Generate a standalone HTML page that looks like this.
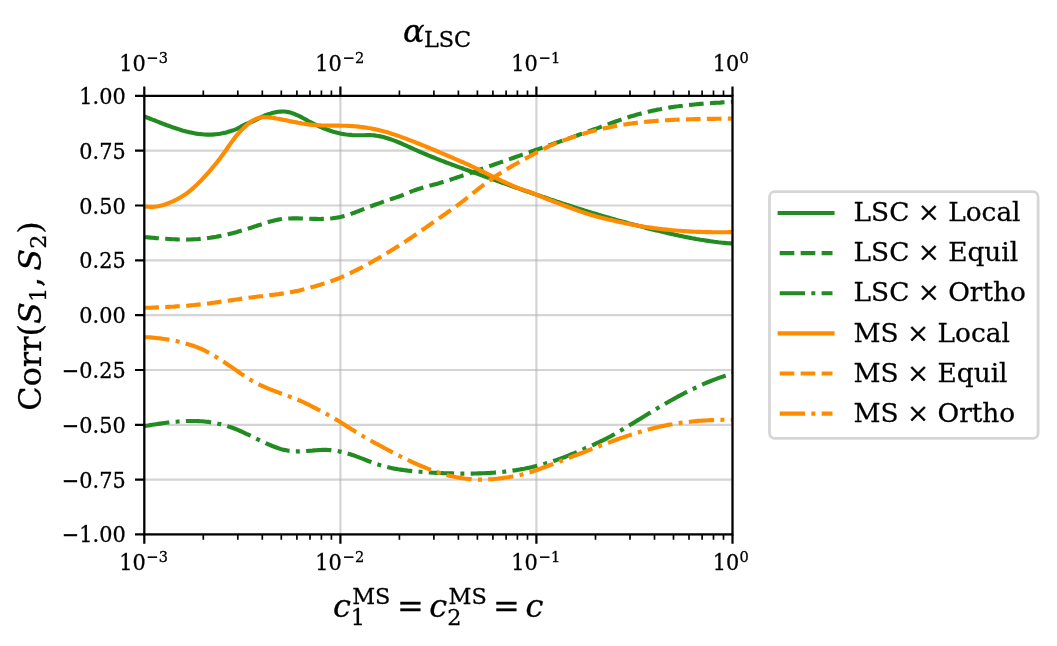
<!DOCTYPE html>
<html lang="en"><head><meta charset="utf-8"><title>Corr(S1, S2)</title>
<style>
html,body{margin:0;padding:0;background:#fff}
svg{display:block}
text{font-family:"DejaVu Serif","Liberation Serif",serif;fill:#000;stroke:#000;stroke-width:.28px}
.i{font-style:italic}
.t{font-size:20.83px}
.s{font-size:14.58px}
.l{font-size:26.39px}
.a{font-size:31.94px}
.b{font-size:22.36px}
</style></head><body>
<svg width="1057" height="646" viewBox="0 0 1057 646">
<rect width="1057" height="646" fill="#fff"/>
<g stroke="#b0b0b0" stroke-opacity="0.55" stroke-width="2.2" fill="none">
<path d="M144.3,95.9 V534.4"/>
<path d="M340.4,95.9 V534.4"/>
<path d="M536.4,95.9 V534.4"/>
<path d="M732.5,95.9 V534.4"/>
<path d="M144.3,95.9 H732.5"/>
<path d="M144.3,150.7 H732.5"/>
<path d="M144.3,205.5 H732.5"/>
<path d="M144.3,260.3 H732.5"/>
<path d="M144.3,315.1 H732.5"/>
<path d="M144.3,370.0 H732.5"/>
<path d="M144.3,424.8 H732.5"/>
<path d="M144.3,479.6 H732.5"/>
<path d="M144.3,534.4 H732.5"/>
</g>
<clipPath id="cp"><rect x="144.3" y="95.9" width="588.2" height="438.5"/></clipPath>
<g clip-path="url(#cp)" fill="none" stroke-width="4.15" stroke-linejoin="round">
<path stroke="#228b22" stroke-linecap="square" d="M144.3,116.4 L146.3,117.2 L148.3,118.0 L150.3,118.8 L152.3,119.6 L154.3,120.3 L156.3,121.1 L158.3,121.9 L160.3,122.7 L162.3,123.5 L164.3,124.2 L166.3,125.0 L168.3,125.7 L170.3,126.4 L172.3,127.2 L174.3,127.8 L176.3,128.5 L178.3,129.1 L180.3,129.8 L182.3,130.4 L184.3,130.9 L186.3,131.5 L188.3,131.9 L190.3,132.4 L192.3,132.8 L194.3,133.2 L196.3,133.6 L198.3,133.9 L200.3,134.1 L202.3,134.3 L204.3,134.5 L206.3,134.6 L208.3,134.6 L210.3,134.6 L212.3,134.6 L214.3,134.4 L216.3,134.3 L218.3,134.0 L220.3,133.7 L222.3,133.3 L224.3,132.9 L226.3,132.4 L228.3,131.8 L230.3,131.2 L232.3,130.6 L234.3,129.9 L236.3,129.1 L238.3,128.2 L240.3,127.1 L242.3,125.9 L244.3,124.9 L246.3,123.9 L248.3,123.1 L250.3,122.3 L252.3,121.5 L254.3,120.6 L256.3,119.6 L258.3,118.6 L260.3,117.6 L262.3,116.7 L264.3,115.8 L266.3,115.0 L268.3,114.3 L270.3,113.7 L272.3,113.1 L274.3,112.5 L276.3,112.1 L278.3,111.8 L280.3,111.6 L282.3,111.5 L284.3,111.5 L286.3,111.7 L288.3,112.1 L290.3,112.6 L292.3,113.2 L294.3,113.9 L296.3,114.8 L298.3,115.7 L300.3,116.7 L302.3,117.7 L304.3,118.8 L306.3,119.9 L308.3,121.0 L310.3,122.0 L312.3,123.1 L314.3,124.1 L316.3,125.0 L318.3,126.0 L320.3,126.8 L322.3,127.7 L324.3,128.5 L326.3,129.3 L328.3,130.0 L330.3,130.7 L332.3,131.4 L334.3,132.0 L336.3,132.5 L338.3,133.0 L340.3,133.5 L342.3,133.9 L344.3,134.2 L346.3,134.5 L348.3,134.7 L350.3,134.9 L352.3,135.1 L354.3,135.2 L356.3,135.2 L358.3,135.3 L360.3,135.2 L362.3,135.2 L364.3,135.2 L366.3,135.1 L368.3,135.1 L370.3,135.1 L372.3,135.2 L374.3,135.4 L376.3,135.7 L378.3,136.0 L380.3,136.4 L382.3,136.8 L384.3,137.3 L386.3,137.9 L388.3,138.5 L390.3,139.2 L392.3,139.9 L394.3,140.6 L396.3,141.4 L398.3,142.2 L400.3,143.0 L402.3,143.9 L404.3,144.8 L406.3,145.7 L408.3,146.6 L410.3,147.5 L412.3,148.4 L414.3,149.3 L416.3,150.2 L418.3,151.1 L420.3,152.0 L422.3,152.8 L424.3,153.7 L426.3,154.5 L428.3,155.4 L430.3,156.2 L432.3,157.0 L434.3,157.8 L436.3,158.6 L438.3,159.4 L440.3,160.2 L442.3,160.9 L444.3,161.7 L446.3,162.5 L448.3,163.2 L450.3,163.9 L452.3,164.7 L454.3,165.4 L456.3,166.2 L458.3,166.9 L460.3,167.6 L462.3,168.3 L464.3,169.1 L466.3,169.8 L468.3,170.5 L470.3,171.2 L472.3,172.0 L474.3,172.7 L476.3,173.4 L478.3,174.1 L480.3,174.9 L482.3,175.6 L484.3,176.3 L486.3,177.0 L488.3,177.7 L490.3,178.4 L492.3,179.2 L494.3,179.9 L496.3,180.6 L498.3,181.3 L500.3,182.0 L502.3,182.7 L504.3,183.4 L506.3,184.1 L508.3,184.8 L510.3,185.6 L512.3,186.3 L514.3,187.0 L516.3,187.7 L518.3,188.4 L520.3,189.1 L522.3,189.8 L524.3,190.5 L526.3,191.2 L528.3,191.8 L530.3,192.5 L532.3,193.2 L534.3,193.9 L536.3,194.6 L538.3,195.3 L540.3,196.0 L542.3,196.7 L544.3,197.3 L546.3,198.0 L548.3,198.7 L550.3,199.4 L552.3,200.0 L554.3,200.7 L556.3,201.4 L558.3,202.0 L560.3,202.7 L562.3,203.4 L564.3,204.0 L566.3,204.7 L568.3,205.3 L570.3,206.0 L572.3,206.6 L574.3,207.3 L576.3,207.9 L578.3,208.6 L580.3,209.2 L582.3,209.8 L584.3,210.5 L586.3,211.1 L588.3,211.7 L590.3,212.3 L592.3,212.9 L594.3,213.5 L596.3,214.1 L598.3,214.7 L600.3,215.3 L602.3,215.9 L604.3,216.5 L606.3,217.1 L608.3,217.6 L610.3,218.2 L612.3,218.8 L614.3,219.3 L616.3,219.9 L618.3,220.5 L620.3,221.0 L622.3,221.6 L624.3,222.1 L626.3,222.6 L628.3,223.2 L630.3,223.7 L632.3,224.2 L634.3,224.8 L636.3,225.3 L638.3,225.8 L640.3,226.3 L642.3,226.8 L644.3,227.3 L646.3,227.9 L648.3,228.4 L650.3,228.9 L652.3,229.4 L654.3,229.9 L656.3,230.4 L658.3,230.8 L660.3,231.3 L662.3,231.8 L664.3,232.3 L666.3,232.7 L668.3,233.2 L670.3,233.7 L672.3,234.1 L674.3,234.6 L676.3,235.0 L678.3,235.4 L680.3,235.9 L682.3,236.3 L684.3,236.7 L686.3,237.1 L688.3,237.5 L690.3,237.9 L692.3,238.3 L694.3,238.6 L696.3,239.0 L698.3,239.3 L700.3,239.7 L702.3,240.0 L704.3,240.3 L706.3,240.6 L708.3,240.9 L710.3,241.2 L712.3,241.5 L714.3,241.8 L716.3,242.0 L718.3,242.3 L720.3,242.5 L722.3,242.7 L724.3,242.9 L726.3,243.1 L728.3,243.3 L730.3,243.4 L732.5,243.6"/>
<path stroke="#228b22" stroke-dasharray="14.63,6.33" d="M144.3,237.1 L146.3,237.3 L148.3,237.4 L150.3,237.6 L152.3,237.8 L154.3,237.9 L156.3,238.1 L158.3,238.2 L160.3,238.4 L162.3,238.6 L164.3,238.7 L166.3,238.8 L168.3,239.0 L170.3,239.1 L172.3,239.2 L174.3,239.3 L176.3,239.4 L178.3,239.5 L180.3,239.5 L182.3,239.5 L184.3,239.6 L186.3,239.6 L188.3,239.5 L190.3,239.5 L192.3,239.4 L194.3,239.3 L196.3,239.2 L198.3,239.1 L200.3,238.9 L202.3,238.7 L204.3,238.5 L206.3,238.3 L208.3,238.0 L210.3,237.7 L212.3,237.4 L214.3,237.1 L216.3,236.8 L218.3,236.4 L220.3,236.0 L222.3,235.6 L224.3,235.2 L226.3,234.7 L228.3,234.2 L230.3,233.7 L232.3,233.2 L234.3,232.7 L236.3,232.2 L238.3,231.6 L240.3,231.0 L242.3,230.4 L244.3,229.8 L246.3,229.2 L248.3,228.6 L250.3,227.9 L252.3,227.3 L254.3,226.6 L256.3,226.0 L258.3,225.3 L260.3,224.7 L262.3,224.0 L264.3,223.4 L266.3,222.7 L268.3,222.1 L270.3,221.5 L272.3,221.0 L274.3,220.5 L276.3,220.0 L278.3,219.6 L280.3,219.3 L282.3,219.0 L284.3,218.8 L286.3,218.7 L288.3,218.5 L290.3,218.5 L292.3,218.4 L294.3,218.4 L296.3,218.4 L298.3,218.4 L300.3,218.5 L302.3,218.5 L304.3,218.6 L306.3,218.7 L308.3,218.7 L310.3,218.8 L312.3,218.9 L314.3,218.9 L316.3,218.9 L318.3,219.0 L320.3,219.0 L322.3,218.9 L324.3,218.9 L326.3,218.8 L328.3,218.6 L330.3,218.5 L332.3,218.3 L334.3,218.0 L336.3,217.7 L338.3,217.4 L340.3,217.0 L342.3,216.5 L344.3,216.0 L346.3,215.5 L348.3,214.8 L350.3,214.2 L352.3,213.4 L354.3,212.7 L356.3,211.9 L358.3,211.2 L360.3,210.4 L362.3,209.6 L364.3,208.8 L366.3,208.0 L368.3,207.2 L370.3,206.5 L372.3,205.8 L374.3,205.0 L376.3,204.3 L378.3,203.6 L380.3,202.9 L382.3,202.1 L384.3,201.4 L386.3,200.8 L388.3,200.1 L390.3,199.4 L392.3,198.7 L394.3,198.1 L396.3,197.4 L398.3,196.7 L400.3,196.0 L402.3,195.3 L404.3,194.5 L406.3,193.6 L408.3,192.8 L410.3,191.9 L412.3,191.1 L414.3,190.4 L416.3,189.7 L418.3,189.0 L420.3,188.4 L422.3,187.8 L424.3,187.2 L426.3,186.7 L428.3,186.1 L430.3,185.6 L432.3,185.1 L434.3,184.5 L436.3,183.9 L438.3,183.4 L440.3,182.8 L442.3,182.2 L444.3,181.6 L446.3,181.0 L448.3,180.3 L450.3,179.7 L452.3,179.1 L454.3,178.4 L456.3,177.7 L458.3,177.1 L460.3,176.4 L462.3,175.7 L464.3,175.1 L466.3,174.4 L468.3,173.7 L470.3,173.0 L472.3,172.3 L474.3,171.6 L476.3,170.9 L478.3,170.2 L480.3,169.5 L482.3,168.8 L484.3,168.1 L486.3,167.4 L488.3,166.6 L490.3,165.9 L492.3,165.2 L494.3,164.5 L496.3,163.8 L498.3,163.1 L500.3,162.4 L502.3,161.7 L504.3,161.0 L506.3,160.3 L508.3,159.6 L510.3,158.9 L512.3,158.2 L514.3,157.5 L516.3,156.8 L518.3,156.1 L520.3,155.4 L522.3,154.7 L524.3,154.0 L526.3,153.3 L528.3,152.6 L530.3,151.9 L532.3,151.2 L534.3,150.5 L536.3,149.8 L538.3,149.1 L540.3,148.4 L542.3,147.7 L544.3,147.0 L546.3,146.3 L548.3,145.6 L550.3,144.9 L552.3,144.2 L554.3,143.5 L556.3,142.8 L558.3,142.1 L560.3,141.4 L562.3,140.7 L564.3,140.0 L566.3,139.3 L568.3,138.6 L570.3,137.9 L572.3,137.2 L574.3,136.5 L576.3,135.8 L578.3,135.0 L580.3,134.3 L582.3,133.6 L584.3,132.9 L586.3,132.2 L588.3,131.5 L590.3,130.7 L592.3,130.0 L594.3,129.3 L596.3,128.6 L598.3,127.9 L600.3,127.1 L602.3,126.4 L604.3,125.7 L606.3,124.9 L608.3,124.2 L610.3,123.5 L612.3,122.7 L614.3,122.0 L616.3,121.3 L618.3,120.6 L620.3,119.9 L622.3,119.2 L624.3,118.6 L626.3,117.9 L628.3,117.2 L630.3,116.6 L632.3,116.0 L634.3,115.4 L636.3,114.8 L638.3,114.2 L640.3,113.7 L642.3,113.2 L644.3,112.7 L646.3,112.2 L648.3,111.7 L650.3,111.2 L652.3,110.8 L654.3,110.4 L656.3,109.9 L658.3,109.5 L660.3,109.2 L662.3,108.8 L664.3,108.4 L666.3,108.1 L668.3,107.7 L670.3,107.4 L672.3,107.1 L674.3,106.8 L676.3,106.5 L678.3,106.3 L680.3,106.0 L682.3,105.8 L684.3,105.5 L686.3,105.3 L688.3,105.1 L690.3,104.9 L692.3,104.7 L694.3,104.5 L696.3,104.3 L698.3,104.1 L700.3,103.9 L702.3,103.8 L704.3,103.6 L706.3,103.5 L708.3,103.3 L710.3,103.2 L712.3,103.0 L714.3,102.9 L716.3,102.8 L718.3,102.7 L720.3,102.6 L722.3,102.4 L724.3,102.3 L726.3,102.2 L728.3,102.1 L730.3,102.0 L732.5,101.9"/>
<path stroke="#228b22" stroke-dasharray="25.31,6.33,3.96,6.33" d="M144.3,426.1 L146.3,425.8 L148.3,425.5 L150.3,425.1 L152.3,424.8 L154.3,424.5 L156.3,424.2 L158.3,423.9 L160.3,423.6 L162.3,423.3 L164.3,423.0 L166.3,422.7 L168.3,422.5 L170.3,422.3 L172.3,422.0 L174.3,421.8 L176.3,421.7 L178.3,421.5 L180.3,421.4 L182.3,421.2 L184.3,421.1 L186.3,421.0 L188.3,421.0 L190.3,421.0 L192.3,421.0 L194.3,421.0 L196.3,421.0 L198.3,421.1 L200.3,421.2 L202.3,421.3 L204.3,421.5 L206.3,421.7 L208.3,421.9 L210.3,422.2 L212.3,422.5 L214.3,422.9 L216.3,423.2 L218.3,423.7 L220.3,424.1 L222.3,424.6 L224.3,425.2 L226.3,425.7 L228.3,426.4 L230.3,427.0 L232.3,427.7 L234.3,428.5 L236.3,429.3 L238.3,430.1 L240.3,431.0 L242.3,431.9 L244.3,432.8 L246.3,433.8 L248.3,434.7 L250.3,435.7 L252.3,436.7 L254.3,437.6 L256.3,438.6 L258.3,439.6 L260.3,440.6 L262.3,441.5 L264.3,442.4 L266.3,443.4 L268.3,444.3 L270.3,445.1 L272.3,446.0 L274.3,446.8 L276.3,447.5 L278.3,448.2 L280.3,448.9 L282.3,449.4 L284.3,449.9 L286.3,450.3 L288.3,450.7 L290.3,450.9 L292.3,451.1 L294.3,451.3 L296.3,451.3 L298.3,451.4 L300.3,451.3 L302.3,451.3 L304.3,451.2 L306.3,451.0 L308.3,450.9 L310.3,450.7 L312.3,450.6 L314.3,450.4 L316.3,450.2 L318.3,450.1 L320.3,450.0 L322.3,449.9 L324.3,449.9 L326.3,449.9 L328.3,450.0 L330.3,450.1 L332.3,450.3 L334.3,450.5 L336.3,450.8 L338.3,451.2 L340.3,451.6 L342.3,452.0 L344.3,452.5 L346.3,453.1 L348.3,453.7 L350.3,454.3 L352.3,455.0 L354.3,455.6 L356.3,456.4 L358.3,457.1 L360.3,457.9 L362.3,458.6 L364.3,459.4 L366.3,460.2 L368.3,461.0 L370.3,461.7 L372.3,462.5 L374.3,463.2 L376.3,463.9 L378.3,464.5 L380.3,465.2 L382.3,465.8 L384.3,466.3 L386.3,466.8 L388.3,467.3 L390.3,467.8 L392.3,468.2 L394.3,468.6 L396.3,468.9 L398.3,469.3 L400.3,469.6 L402.3,469.9 L404.3,470.2 L406.3,470.4 L408.3,470.7 L410.3,470.9 L412.3,471.1 L414.3,471.3 L416.3,471.5 L418.3,471.7 L420.3,471.8 L422.3,472.0 L424.3,472.1 L426.3,472.3 L428.3,472.4 L430.3,472.5 L432.3,472.7 L434.3,472.8 L436.3,472.9 L438.3,472.9 L440.3,473.0 L442.3,473.1 L444.3,473.2 L446.3,473.3 L448.3,473.3 L450.3,473.4 L452.3,473.4 L454.3,473.5 L456.3,473.5 L458.3,473.6 L460.3,473.6 L462.3,473.6 L464.3,473.6 L466.3,473.6 L468.3,473.6 L470.3,473.6 L472.3,473.6 L474.3,473.5 L476.3,473.5 L478.3,473.4 L480.3,473.4 L482.3,473.3 L484.3,473.2 L486.3,473.1 L488.3,473.0 L490.3,472.9 L492.3,472.7 L494.3,472.6 L496.3,472.4 L498.3,472.3 L500.3,472.1 L502.3,471.9 L504.3,471.7 L506.3,471.4 L508.3,471.2 L510.3,470.9 L512.3,470.7 L514.3,470.4 L516.3,470.1 L518.3,469.7 L520.3,469.4 L522.3,469.0 L524.3,468.7 L526.3,468.3 L528.3,467.9 L530.3,467.4 L532.3,467.0 L534.3,466.5 L536.3,466.0 L538.3,465.5 L540.3,465.0 L542.3,464.5 L544.3,463.9 L546.3,463.3 L548.3,462.7 L550.3,462.1 L552.3,461.5 L554.3,460.8 L556.3,460.1 L558.3,459.4 L560.3,458.7 L562.3,457.9 L564.3,457.2 L566.3,456.4 L568.3,455.6 L570.3,454.8 L572.3,454.0 L574.3,453.2 L576.3,452.3 L578.3,451.5 L580.3,450.6 L582.3,449.7 L584.3,448.8 L586.3,448.0 L588.3,447.1 L590.3,446.2 L592.3,445.3 L594.3,444.3 L596.3,443.4 L598.3,442.5 L600.3,441.5 L602.3,440.6 L604.3,439.6 L606.3,438.6 L608.3,437.5 L610.3,436.5 L612.3,435.4 L614.3,434.3 L616.3,433.1 L618.3,432.0 L620.3,430.8 L622.3,429.6 L624.3,428.4 L626.3,427.2 L628.3,426.0 L630.3,424.8 L632.3,423.6 L634.3,422.4 L636.3,421.1 L638.3,419.9 L640.3,418.7 L642.3,417.5 L644.3,416.3 L646.3,415.0 L648.3,413.8 L650.3,412.6 L652.3,411.4 L654.3,410.2 L656.3,409.0 L658.3,407.8 L660.3,406.6 L662.3,405.4 L664.3,404.3 L666.3,403.1 L668.3,402.0 L670.3,400.8 L672.3,399.7 L674.3,398.6 L676.3,397.5 L678.3,396.4 L680.3,395.4 L682.3,394.3 L684.3,393.2 L686.3,392.2 L688.3,391.2 L690.3,390.2 L692.3,389.2 L694.3,388.3 L696.3,387.3 L698.3,386.4 L700.3,385.5 L702.3,384.6 L704.3,383.7 L706.3,382.8 L708.3,382.0 L710.3,381.2 L712.3,380.4 L714.3,379.6 L716.3,378.9 L718.3,378.1 L720.3,377.4 L722.3,376.8 L724.3,376.1 L726.3,375.5 L728.3,374.9 L730.3,374.3 L732.5,373.7"/>
<path stroke="#ff8c00" stroke-linecap="square" d="M144.3,206.4 L146.3,206.6 L148.3,206.8 L150.3,206.9 L152.3,206.9 L154.3,206.8 L156.3,206.5 L158.3,206.2 L160.3,205.8 L162.3,205.3 L164.3,204.7 L166.3,204.0 L168.3,203.2 L170.3,202.4 L172.3,201.6 L174.3,200.6 L176.3,199.7 L178.3,198.6 L180.3,197.5 L182.3,196.3 L184.3,195.0 L186.3,193.6 L188.3,192.1 L190.3,190.5 L192.3,188.8 L194.3,187.1 L196.3,185.2 L198.3,183.3 L200.3,181.3 L202.3,179.2 L204.3,177.0 L206.3,174.8 L208.3,172.6 L210.3,170.3 L212.3,167.9 L214.3,165.5 L216.3,163.1 L218.3,160.6 L220.3,158.0 L222.3,155.3 L224.3,152.6 L226.3,149.7 L228.3,146.8 L230.3,143.9 L232.3,141.1 L234.3,138.4 L236.3,135.9 L238.3,133.6 L240.3,131.4 L242.3,129.4 L244.3,127.4 L246.3,125.6 L248.3,123.8 L250.3,122.2 L252.3,120.8 L254.3,119.7 L256.3,118.8 L258.3,118.1 L260.3,117.6 L262.3,117.3 L264.3,117.2 L266.3,117.2 L268.3,117.3 L270.3,117.6 L272.3,117.8 L274.3,118.1 L276.3,118.5 L278.3,118.8 L280.3,119.2 L282.3,119.6 L284.3,120.0 L286.3,120.4 L288.3,120.8 L290.3,121.2 L292.3,121.6 L294.3,122.0 L296.3,122.4 L298.3,122.8 L300.3,123.1 L302.3,123.5 L304.3,123.8 L306.3,124.1 L308.3,124.4 L310.3,124.6 L312.3,124.9 L314.3,125.0 L316.3,125.2 L318.3,125.3 L320.3,125.4 L322.3,125.5 L324.3,125.5 L326.3,125.5 L328.3,125.6 L330.3,125.6 L332.3,125.6 L334.3,125.6 L336.3,125.6 L338.3,125.6 L340.3,125.7 L342.3,125.7 L344.3,125.7 L346.3,125.8 L348.3,125.9 L350.3,126.0 L352.3,126.1 L354.3,126.3 L356.3,126.4 L358.3,126.6 L360.3,126.9 L362.3,127.1 L364.3,127.4 L366.3,127.6 L368.3,128.0 L370.3,128.3 L372.3,128.7 L374.3,129.1 L376.3,129.5 L378.3,129.9 L380.3,130.4 L382.3,130.9 L384.3,131.5 L386.3,132.0 L388.3,132.6 L390.3,133.3 L392.3,133.9 L394.3,134.6 L396.3,135.2 L398.3,135.9 L400.3,136.6 L402.3,137.4 L404.3,138.1 L406.3,138.8 L408.3,139.6 L410.3,140.4 L412.3,141.1 L414.3,141.9 L416.3,142.7 L418.3,143.5 L420.3,144.3 L422.3,145.1 L424.3,145.9 L426.3,146.7 L428.3,147.5 L430.3,148.4 L432.3,149.2 L434.3,150.0 L436.3,150.9 L438.3,151.7 L440.3,152.6 L442.3,153.4 L444.3,154.3 L446.3,155.1 L448.3,156.0 L450.3,156.8 L452.3,157.7 L454.3,158.6 L456.3,159.4 L458.3,160.3 L460.3,161.2 L462.3,162.0 L464.3,162.9 L466.3,163.8 L468.3,164.7 L470.3,165.6 L472.3,166.6 L474.3,167.5 L476.3,168.5 L478.3,169.4 L480.3,170.4 L482.3,171.4 L484.3,172.4 L486.3,173.4 L488.3,174.3 L490.3,175.3 L492.3,176.3 L494.3,177.3 L496.3,178.2 L498.3,179.2 L500.3,180.1 L502.3,181.1 L504.3,182.0 L506.3,182.9 L508.3,183.8 L510.3,184.7 L512.3,185.6 L514.3,186.5 L516.3,187.3 L518.3,188.1 L520.3,188.9 L522.3,189.6 L524.3,190.2 L526.3,190.9 L528.3,191.5 L530.3,192.2 L532.3,193.0 L534.3,193.7 L536.3,194.6 L538.3,195.4 L540.3,196.2 L542.3,197.1 L544.3,197.9 L546.3,198.7 L548.3,199.5 L550.3,200.3 L552.3,201.0 L554.3,201.8 L556.3,202.6 L558.3,203.3 L560.3,204.1 L562.3,204.8 L564.3,205.6 L566.3,206.3 L568.3,207.1 L570.3,207.8 L572.3,208.6 L574.3,209.3 L576.3,210.0 L578.3,210.7 L580.3,211.4 L582.3,212.1 L584.3,212.8 L586.3,213.4 L588.3,214.1 L590.3,214.7 L592.3,215.3 L594.3,215.8 L596.3,216.4 L598.3,216.9 L600.3,217.4 L602.3,217.9 L604.3,218.4 L606.3,218.9 L608.3,219.4 L610.3,219.9 L612.3,220.3 L614.3,220.8 L616.3,221.2 L618.3,221.7 L620.3,222.1 L622.3,222.5 L624.3,223.0 L626.3,223.4 L628.3,223.8 L630.3,224.2 L632.3,224.6 L634.3,225.0 L636.3,225.3 L638.3,225.7 L640.3,226.0 L642.3,226.4 L644.3,226.7 L646.3,227.0 L648.3,227.3 L650.3,227.6 L652.3,227.9 L654.3,228.2 L656.3,228.4 L658.3,228.7 L660.3,228.9 L662.3,229.2 L664.3,229.4 L666.3,229.6 L668.3,229.8 L670.3,230.0 L672.3,230.2 L674.3,230.4 L676.3,230.5 L678.3,230.7 L680.3,230.8 L682.3,231.0 L684.3,231.1 L686.3,231.3 L688.3,231.4 L690.3,231.5 L692.3,231.6 L694.3,231.7 L696.3,231.8 L698.3,231.8 L700.3,231.9 L702.3,232.0 L704.3,232.0 L706.3,232.1 L708.3,232.1 L710.3,232.1 L712.3,232.2 L714.3,232.2 L716.3,232.2 L718.3,232.2 L720.3,232.2 L722.3,232.2 L724.3,232.2 L726.3,232.2 L728.3,232.1 L730.3,232.1 L732.5,232.0"/>
<path stroke="#ff8c00" stroke-dasharray="14.63,6.33" d="M144.3,307.9 L146.3,307.8 L148.3,307.7 L150.3,307.7 L152.3,307.6 L154.3,307.5 L156.3,307.4 L158.3,307.4 L160.3,307.3 L162.3,307.2 L164.3,307.1 L166.3,307.0 L168.3,306.9 L170.3,306.8 L172.3,306.7 L174.3,306.6 L176.3,306.4 L178.3,306.3 L180.3,306.2 L182.3,306.0 L184.3,305.9 L186.3,305.7 L188.3,305.6 L190.3,305.4 L192.3,305.2 L194.3,305.0 L196.3,304.8 L198.3,304.6 L200.3,304.4 L202.3,304.2 L204.3,303.9 L206.3,303.7 L208.3,303.5 L210.3,303.2 L212.3,302.9 L214.3,302.7 L216.3,302.4 L218.3,302.1 L220.3,301.8 L222.3,301.5 L224.3,301.3 L226.3,301.0 L228.3,300.7 L230.3,300.4 L232.3,300.1 L234.3,299.8 L236.3,299.5 L238.3,299.2 L240.3,298.9 L242.3,298.6 L244.3,298.4 L246.3,298.1 L248.3,297.8 L250.3,297.5 L252.3,297.3 L254.3,297.0 L256.3,296.8 L258.3,296.5 L260.3,296.3 L262.3,296.1 L264.3,295.8 L266.3,295.6 L268.3,295.4 L270.3,295.1 L272.3,294.9 L274.3,294.7 L276.3,294.4 L278.3,294.2 L280.3,293.9 L282.3,293.6 L284.3,293.3 L286.3,293.0 L288.3,292.7 L290.3,292.3 L292.3,291.9 L294.3,291.5 L296.3,291.1 L298.3,290.7 L300.3,290.2 L302.3,289.7 L304.3,289.2 L306.3,288.7 L308.3,288.2 L310.3,287.6 L312.3,287.0 L314.3,286.5 L316.3,285.9 L318.3,285.3 L320.3,284.7 L322.3,284.1 L324.3,283.4 L326.3,282.8 L328.3,282.1 L330.3,281.4 L332.3,280.7 L334.3,280.0 L336.3,279.2 L338.3,278.5 L340.3,277.7 L342.3,276.8 L344.3,276.0 L346.3,275.1 L348.3,274.1 L350.3,273.2 L352.3,272.2 L354.3,271.2 L356.3,270.2 L358.3,269.2 L360.3,268.2 L362.3,267.1 L364.3,266.0 L366.3,265.0 L368.3,263.9 L370.3,262.8 L372.3,261.7 L374.3,260.5 L376.3,259.4 L378.3,258.2 L380.3,257.1 L382.3,255.9 L384.3,254.7 L386.3,253.5 L388.3,252.3 L390.3,251.1 L392.3,249.8 L394.3,248.6 L396.3,247.3 L398.3,246.1 L400.3,244.8 L402.3,243.5 L404.3,242.2 L406.3,240.9 L408.3,239.5 L410.3,238.2 L412.3,236.9 L414.3,235.5 L416.3,234.1 L418.3,232.8 L420.3,231.4 L422.3,230.0 L424.3,228.6 L426.3,227.2 L428.3,225.8 L430.3,224.4 L432.3,223.0 L434.3,221.6 L436.3,220.2 L438.3,218.8 L440.3,217.4 L442.3,216.0 L444.3,214.6 L446.3,213.2 L448.3,211.8 L450.3,210.4 L452.3,209.0 L454.3,207.5 L456.3,206.1 L458.3,204.6 L460.3,203.1 L462.3,201.6 L464.3,200.1 L466.3,198.5 L468.3,196.9 L470.3,195.3 L472.3,193.7 L474.3,192.1 L476.3,190.5 L478.3,188.9 L480.3,187.4 L482.3,185.8 L484.3,184.3 L486.3,182.8 L488.3,181.3 L490.3,179.9 L492.3,178.5 L494.3,177.1 L496.3,175.8 L498.3,174.5 L500.3,173.2 L502.3,171.9 L504.3,170.7 L506.3,169.5 L508.3,168.3 L510.3,167.1 L512.3,165.9 L514.3,164.8 L516.3,163.7 L518.3,162.5 L520.3,161.4 L522.3,160.3 L524.3,159.2 L526.3,158.1 L528.3,157.0 L530.3,156.0 L532.3,154.9 L534.3,153.8 L536.3,152.7 L538.3,151.7 L540.3,150.6 L542.3,149.6 L544.3,148.6 L546.3,147.6 L548.3,146.6 L550.3,145.7 L552.3,144.8 L554.3,144.0 L556.3,143.1 L558.3,142.3 L560.3,141.6 L562.3,140.8 L564.3,140.1 L566.3,139.4 L568.3,138.7 L570.3,138.0 L572.3,137.3 L574.3,136.6 L576.3,136.0 L578.3,135.3 L580.3,134.7 L582.3,134.1 L584.3,133.5 L586.3,132.9 L588.3,132.3 L590.3,131.8 L592.3,131.2 L594.3,130.7 L596.3,130.2 L598.3,129.7 L600.3,129.2 L602.3,128.7 L604.3,128.3 L606.3,127.9 L608.3,127.4 L610.3,127.0 L612.3,126.6 L614.3,126.2 L616.3,125.9 L618.3,125.5 L620.3,125.2 L622.3,124.8 L624.3,124.5 L626.3,124.2 L628.3,123.9 L630.3,123.6 L632.3,123.4 L634.3,123.1 L636.3,122.9 L638.3,122.6 L640.3,122.4 L642.3,122.2 L644.3,122.0 L646.3,121.8 L648.3,121.6 L650.3,121.4 L652.3,121.2 L654.3,121.0 L656.3,120.9 L658.3,120.7 L660.3,120.6 L662.3,120.5 L664.3,120.3 L666.3,120.2 L668.3,120.1 L670.3,120.0 L672.3,119.9 L674.3,119.8 L676.3,119.7 L678.3,119.6 L680.3,119.6 L682.3,119.5 L684.3,119.4 L686.3,119.4 L688.3,119.3 L690.3,119.2 L692.3,119.2 L694.3,119.1 L696.3,119.1 L698.3,119.1 L700.3,119.0 L702.3,119.0 L704.3,118.9 L706.3,118.9 L708.3,118.9 L710.3,118.9 L712.3,118.8 L714.3,118.8 L716.3,118.8 L718.3,118.7 L720.3,118.7 L722.3,118.7 L724.3,118.7 L726.3,118.6 L728.3,118.6 L730.3,118.6 L732.5,118.5"/>
<path stroke="#ff8c00" stroke-dasharray="25.31,6.33,3.96,6.33" d="M144.3,337.1 L146.3,337.2 L148.3,337.3 L150.3,337.4 L152.3,337.6 L154.3,337.8 L156.3,338.0 L158.3,338.2 L160.3,338.4 L162.3,338.7 L164.3,339.0 L166.3,339.3 L168.3,339.6 L170.3,339.9 L172.3,340.3 L174.3,340.7 L176.3,341.1 L178.3,341.6 L180.3,342.1 L182.3,342.6 L184.3,343.1 L186.3,343.7 L188.3,344.3 L190.3,344.9 L192.3,345.5 L194.3,346.2 L196.3,346.9 L198.3,347.7 L200.3,348.5 L202.3,349.4 L204.3,350.4 L206.3,351.4 L208.3,352.5 L210.3,353.6 L212.3,354.7 L214.3,355.9 L216.3,357.1 L218.3,358.4 L220.3,359.6 L222.3,360.9 L224.3,362.2 L226.3,363.5 L228.3,364.9 L230.3,366.2 L232.3,367.6 L234.3,369.0 L236.3,370.4 L238.3,371.8 L240.3,373.2 L242.3,374.6 L244.3,375.9 L246.3,377.3 L248.3,378.5 L250.3,379.7 L252.3,380.9 L254.3,382.0 L256.3,383.1 L258.3,384.1 L260.3,385.1 L262.3,386.0 L264.3,386.9 L266.3,387.8 L268.3,388.6 L270.3,389.4 L272.3,390.2 L274.3,390.9 L276.3,391.7 L278.3,392.4 L280.3,393.2 L282.3,393.9 L284.3,394.6 L286.3,395.3 L288.3,396.1 L290.3,396.8 L292.3,397.6 L294.3,398.3 L296.3,399.1 L298.3,400.0 L300.3,400.8 L302.3,401.7 L304.3,402.6 L306.3,403.6 L308.3,404.5 L310.3,405.5 L312.3,406.6 L314.3,407.6 L316.3,408.6 L318.3,409.7 L320.3,410.7 L322.3,411.8 L324.3,412.8 L326.3,413.9 L328.3,415.0 L330.3,416.1 L332.3,417.3 L334.3,418.4 L336.3,419.6 L338.3,420.8 L340.3,422.1 L342.3,423.4 L344.3,424.6 L346.3,425.9 L348.3,427.2 L350.3,428.5 L352.3,429.7 L354.3,431.0 L356.3,432.2 L358.3,433.4 L360.3,434.6 L362.3,435.8 L364.3,437.0 L366.3,438.1 L368.3,439.2 L370.3,440.4 L372.3,441.5 L374.3,442.6 L376.3,443.7 L378.3,444.7 L380.3,445.8 L382.3,446.9 L384.3,448.0 L386.3,449.0 L388.3,450.1 L390.3,451.1 L392.3,452.2 L394.3,453.2 L396.3,454.2 L398.3,455.3 L400.3,456.3 L402.3,457.3 L404.3,458.3 L406.3,459.2 L408.3,460.2 L410.3,461.1 L412.3,462.1 L414.3,463.0 L416.3,463.9 L418.3,464.8 L420.3,465.6 L422.3,466.5 L424.3,467.3 L426.3,468.1 L428.3,468.9 L430.3,469.7 L432.3,470.4 L434.3,471.1 L436.3,471.8 L438.3,472.5 L440.3,473.1 L442.3,473.7 L444.3,474.3 L446.3,474.8 L448.3,475.4 L450.3,475.9 L452.3,476.3 L454.3,476.8 L456.3,477.2 L458.3,477.5 L460.3,477.9 L462.3,478.2 L464.3,478.5 L466.3,478.7 L468.3,479.0 L470.3,479.1 L472.3,479.3 L474.3,479.4 L476.3,479.5 L478.3,479.6 L480.3,479.6 L482.3,479.6 L484.3,479.6 L486.3,479.5 L488.3,479.4 L490.3,479.3 L492.3,479.2 L494.3,479.0 L496.3,478.8 L498.3,478.6 L500.3,478.3 L502.3,478.1 L504.3,477.8 L506.3,477.5 L508.3,477.2 L510.3,476.8 L512.3,476.5 L514.3,476.1 L516.3,475.7 L518.3,475.3 L520.3,474.9 L522.3,474.4 L524.3,473.9 L526.3,473.4 L528.3,472.8 L530.3,472.2 L532.3,471.6 L534.3,470.9 L536.3,470.2 L538.3,469.5 L540.3,468.8 L542.3,468.0 L544.3,467.3 L546.3,466.5 L548.3,465.8 L550.3,465.0 L552.3,464.3 L554.3,463.5 L556.3,462.7 L558.3,462.0 L560.3,461.2 L562.3,460.5 L564.3,459.7 L566.3,458.9 L568.3,458.2 L570.3,457.4 L572.3,456.6 L574.3,455.8 L576.3,455.1 L578.3,454.3 L580.3,453.5 L582.3,452.7 L584.3,452.0 L586.3,451.2 L588.3,450.4 L590.3,449.6 L592.3,448.8 L594.3,448.1 L596.3,447.3 L598.3,446.5 L600.3,445.7 L602.3,445.0 L604.3,444.2 L606.3,443.5 L608.3,442.7 L610.3,442.0 L612.3,441.2 L614.3,440.5 L616.3,439.8 L618.3,439.0 L620.3,438.3 L622.3,437.6 L624.3,436.9 L626.3,436.3 L628.3,435.6 L630.3,434.9 L632.3,434.3 L634.3,433.6 L636.3,433.0 L638.3,432.4 L640.3,431.8 L642.3,431.2 L644.3,430.6 L646.3,430.0 L648.3,429.5 L650.3,429.0 L652.3,428.4 L654.3,427.9 L656.3,427.4 L658.3,427.0 L660.3,426.5 L662.3,426.1 L664.3,425.7 L666.3,425.3 L668.3,424.9 L670.3,424.5 L672.3,424.2 L674.3,423.8 L676.3,423.5 L678.3,423.2 L680.3,422.9 L682.3,422.6 L684.3,422.4 L686.3,422.1 L688.3,421.9 L690.3,421.7 L692.3,421.5 L694.3,421.3 L696.3,421.1 L698.3,420.9 L700.3,420.8 L702.3,420.6 L704.3,420.5 L706.3,420.4 L708.3,420.2 L710.3,420.1 L712.3,420.1 L714.3,420.0 L716.3,419.9 L718.3,419.8 L720.3,419.8 L722.3,419.8 L724.3,419.7 L726.3,419.7 L728.3,419.7 L730.3,419.7 L732.5,419.7"/>
</g>
<g stroke="#000" fill="none">
<path stroke-width="2.22" d="M144.3,534.4 v9.3 M144.3,95.9 v-9.3 M340.4,534.4 v9.3 M340.4,95.9 v-9.3 M536.4,534.4 v9.3 M536.4,95.9 v-9.3 M732.5,534.4 v9.3 M732.5,95.9 v-9.3 M144.3,95.9 h-9.3 M144.3,150.7 h-9.3 M144.3,205.5 h-9.3 M144.3,260.3 h-9.3 M144.3,315.1 h-9.3 M144.3,370.0 h-9.3 M144.3,424.8 h-9.3 M144.3,479.6 h-9.3 M144.3,534.4 h-9.3"/>
<path stroke-width="1.67" d="M203.3,534.4 v5.45 M203.3,95.9 v-5.45 M237.8,534.4 v5.45 M237.8,95.9 v-5.45 M262.3,534.4 v5.45 M262.3,95.9 v-5.45 M281.3,534.4 v5.45 M281.3,95.9 v-5.45 M296.9,534.4 v5.45 M296.9,95.9 v-5.45 M310.0,534.4 v5.45 M310.0,95.9 v-5.45 M321.4,534.4 v5.45 M321.4,95.9 v-5.45 M331.4,534.4 v5.45 M331.4,95.9 v-5.45 M399.4,534.4 v5.45 M399.4,95.9 v-5.45 M433.9,534.4 v5.45 M433.9,95.9 v-5.45 M458.4,534.4 v5.45 M458.4,95.9 v-5.45 M477.4,534.4 v5.45 M477.4,95.9 v-5.45 M492.9,534.4 v5.45 M492.9,95.9 v-5.45 M506.1,534.4 v5.45 M506.1,95.9 v-5.45 M517.4,534.4 v5.45 M517.4,95.9 v-5.45 M527.5,534.4 v5.45 M527.5,95.9 v-5.45 M595.5,534.4 v5.45 M595.5,95.9 v-5.45 M630.0,534.4 v5.45 M630.0,95.9 v-5.45 M654.5,534.4 v5.45 M654.5,95.9 v-5.45 M673.5,534.4 v5.45 M673.5,95.9 v-5.45 M689.0,534.4 v5.45 M689.0,95.9 v-5.45 M702.1,534.4 v5.45 M702.1,95.9 v-5.45 M713.5,534.4 v5.45 M713.5,95.9 v-5.45 M723.5,534.4 v5.45 M723.5,95.9 v-5.45"/>
<rect x="144.3" y="95.9" width="588.2" height="438.5" stroke-width="2.22" stroke-linejoin="miter"/>
</g>
<text class="t" transform="translate(125.7,103.9) scale(1,1.055)" text-anchor="end">1.00</text>
<text class="t" transform="translate(125.7,158.7) scale(1,1.055)" text-anchor="end">0.75</text>
<text class="t" transform="translate(125.7,213.5) scale(1,1.055)" text-anchor="end">0.50</text>
<text class="t" transform="translate(125.7,268.3) scale(1,1.055)" text-anchor="end">0.25</text>
<text class="t" transform="translate(125.7,323.1) scale(1,1.055)" text-anchor="end">0.00</text>
<text class="t" transform="translate(125.7,378.0) scale(1,1.055)" text-anchor="end">−0.25</text>
<text class="t" transform="translate(125.7,432.8) scale(1,1.055)" text-anchor="end">−0.50</text>
<text class="t" transform="translate(125.7,487.6) scale(1,1.055)" text-anchor="end">−0.75</text>
<text class="t" transform="translate(125.7,542.4) scale(1,1.055)" text-anchor="end">−1.00</text>
<text class="t" transform="translate(119.2,570.0) scale(1,1.055)">10<tspan class="s" x="27.35" y="-7.63">−</tspan><tspan class="s" x="39.6" y="-7.63">3</tspan></text>
<text class="t" transform="translate(119.2,71.0) scale(1,1.055)">10<tspan class="s" x="27.35" y="-7.63">−</tspan><tspan class="s" x="39.6" y="-7.63">3</tspan></text>
<text class="t" transform="translate(315.3,570.0) scale(1,1.055)">10<tspan class="s" x="27.35" y="-7.63">−</tspan><tspan class="s" x="39.6" y="-7.63">2</tspan></text>
<text class="t" transform="translate(315.3,71.0) scale(1,1.055)">10<tspan class="s" x="27.35" y="-7.63">−</tspan><tspan class="s" x="39.6" y="-7.63">2</tspan></text>
<text class="t" transform="translate(511.3,570.0) scale(1,1.055)">10<tspan class="s" x="27.35" y="-7.63">−</tspan><tspan class="s" x="39.6" y="-7.63">1</tspan></text>
<text class="t" transform="translate(511.3,71.0) scale(1,1.055)">10<tspan class="s" x="27.35" y="-7.63">−</tspan><tspan class="s" x="39.6" y="-7.63">1</tspan></text>
<text class="t" transform="translate(712.8,570.0) scale(1,1.055)">10<tspan class="s" x="26.75" y="-7.63">0</tspan></text>
<text class="t" transform="translate(712.8,71.0) scale(1,1.055)">10<tspan class="s" x="26.75" y="-7.63">0</tspan></text>
<text class="a" x="403.0" y="42.0"><tspan class="i">α</tspan><tspan class="b" x="423.9" y="47.40">LSC</tspan></text>
<text class="a"><tspan class="i" x="332.9" y="616.9">c</tspan><tspan class="b" x="352.2" y="604.26">MS</tspan><tspan class="b" x="350.8" y="625.20">1</tspan><tspan x="396.9" y="616.9">=</tspan><tspan class="i" x="429.3" y="616.9">c</tspan><tspan class="b" x="448.6" y="604.26">MS</tspan><tspan class="b" x="447.2" y="625.20">2</tspan><tspan x="493.1" y="616.9">=</tspan><tspan class="i" x="525.6" y="616.9">c</tspan></text>
<g transform="translate(41.3,315.8) rotate(-90)"><text class="a" x="-95" y="0">Corr(<tspan class="i" x="-8.17">S</tspan><tspan class="b" x="13.75" y="4.99">1</tspan><tspan x="28.83" y="0">,</tspan><tspan class="i" x="45.07" y="0">S</tspan><tspan class="b" x="66.99" y="4.99">2</tspan><tspan x="82.08" y="0">)</tspan></text></g>
<rect x="769.5" y="191.6" width="268.6" height="246.75" rx="5.3" ry="5.3" fill="#fff" fill-opacity="0.8" stroke="#ccc" stroke-opacity="0.8" stroke-width="2.78"/>
<path d="M779.7,213.00 H832.5" stroke="#228b22" stroke-width="4.15" fill="none" stroke-linecap="square"/>
<text class="l" x="853.6" y="221.20">LSC × Local</text>
<path d="M779.7,253.12 H832.5" stroke="#228b22" stroke-width="4.15" fill="none" stroke-dasharray="14.63,6.33"/>
<text class="l" x="853.6" y="261.32">LSC × Equil</text>
<path d="M779.7,293.24 H832.5" stroke="#228b22" stroke-width="4.15" fill="none" stroke-dasharray="25.31,6.33,3.96,6.33"/>
<text class="l" x="853.6" y="301.44">LSC × Ortho</text>
<path d="M779.7,333.36 H832.5" stroke="#ff8c00" stroke-width="4.15" fill="none" stroke-linecap="square"/>
<text class="l" x="853.6" y="341.56">MS × Local</text>
<path d="M779.7,373.48 H832.5" stroke="#ff8c00" stroke-width="4.15" fill="none" stroke-dasharray="14.63,6.33"/>
<text class="l" x="853.6" y="381.68">MS × Equil</text>
<path d="M779.7,413.60 H832.5" stroke="#ff8c00" stroke-width="4.15" fill="none" stroke-dasharray="25.31,6.33,3.96,6.33"/>
<text class="l" x="853.6" y="421.80">MS × Ortho</text>
</svg></body></html>
